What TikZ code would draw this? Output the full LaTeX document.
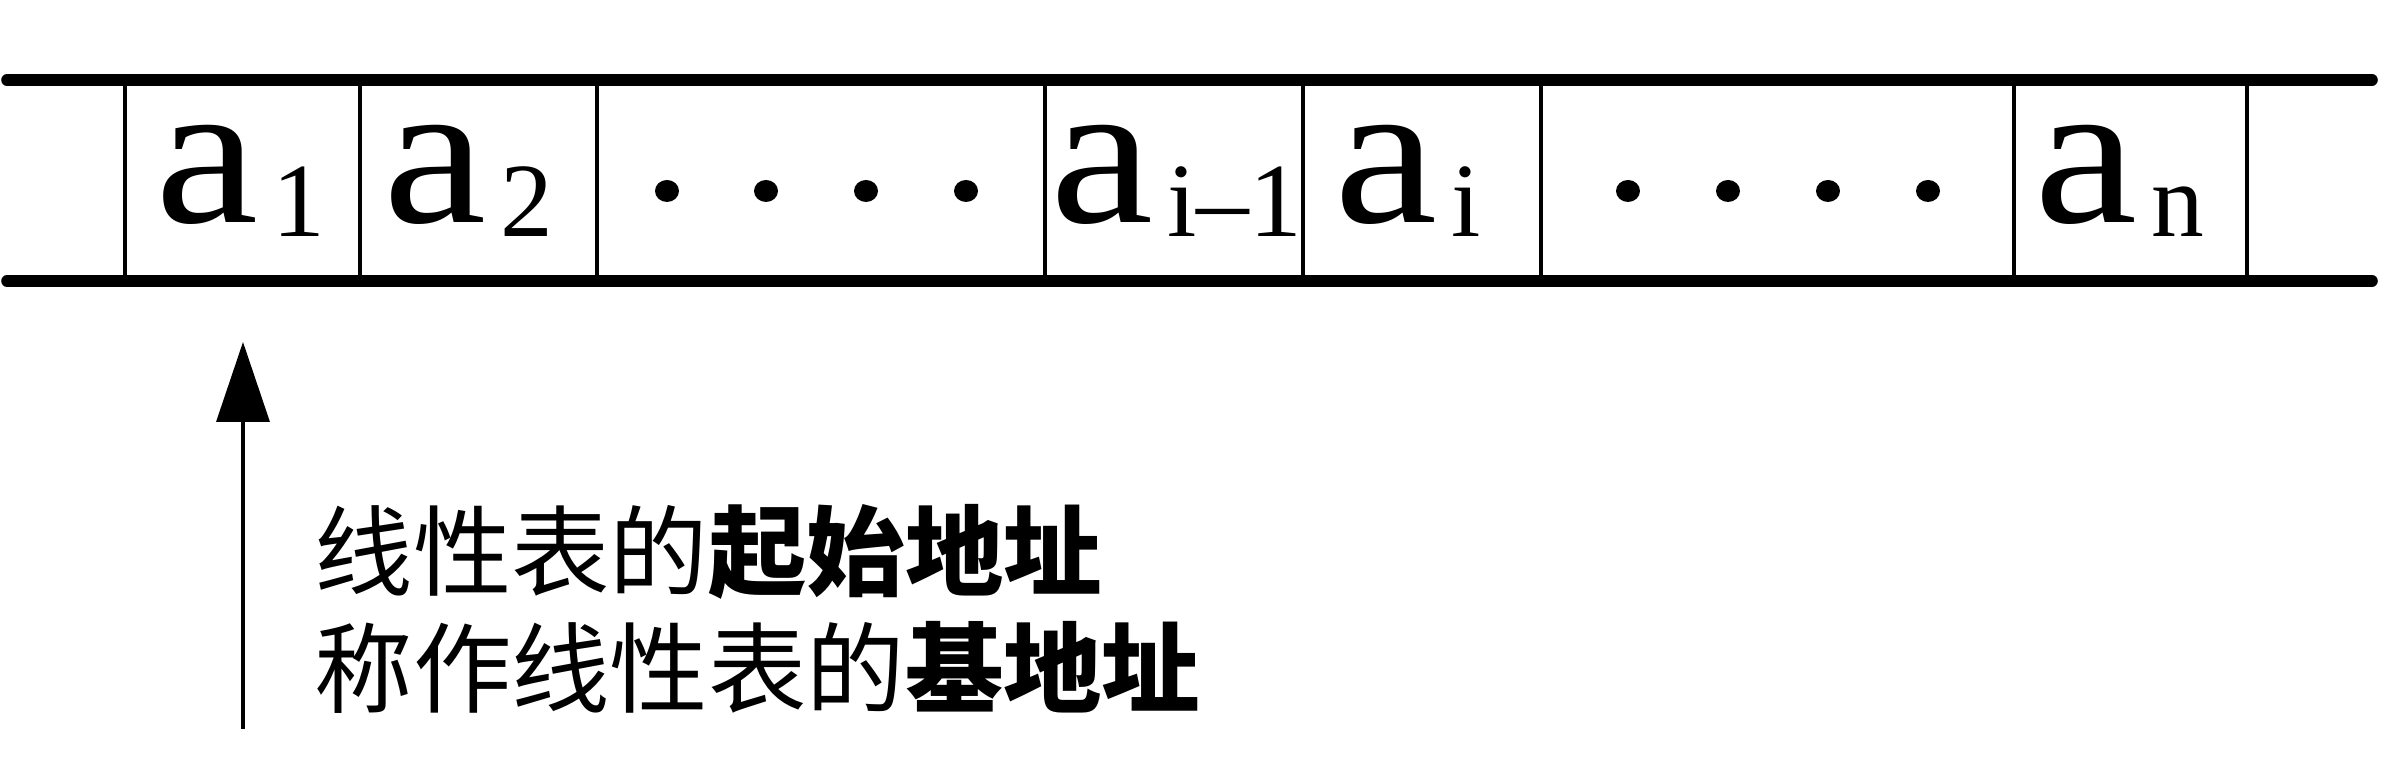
\documentclass[tikz,border=0pt]{standalone}
\usepackage{fontspec}
\setmainfont{Liberation Serif}
\newfontfamily\cjk{Noto Sans CJK SC}
\usetikzlibrary{arrows.meta}
\newcommand{\ael}[1]{\scalebox{1.12}[1]{\fontsize{59}{59}\selectfont a}\hspace{4pt}\raisebox{-0.14cm}{\fontsize{30}{30}\selectfont #1}}
\begin{document}
\begin{tikzpicture}[
  rail/.style={line width=3.3pt,line cap=round},
  sep/.style={line width=1.4pt},
  elem/.style={anchor=base,inner sep=0pt},
  note/.style={anchor=west,inner sep=0pt,align=left,font=\cjk\fontsize{28}{33.5}\selectfont}]

  \useasboundingbox (0,0) rectangle (23.81,7.75);

  \draw[rail] (0.07,6.95) -- (23.72,6.95);
  \draw[rail] (0.07,4.94) -- (23.72,4.94);
  \foreach \x in {1.25,3.60,5.97,10.45,13.03,15.41,20.14,22.47}
    \draw[sep] (\x,6.95) -- (\x,4.94);

  \node[elem] (a1) at (2.40,5.52) {\ael{1}};
  \node[elem] (a2) at (4.68,5.52) {\ael{2}};
  \node[elem] (aim1) at (11.76,5.52) {\ael{i--1}};
  \node[elem] (ai) at (14.08,5.52) {\ael{i}};
  \node[elem] (an) at (21.19,5.52) {\ael{n}};

  \foreach \x in {6.67,7.66,8.66,9.66,16.28,17.28,18.28,19.28}
    \fill (\x,5.84) ellipse (0.12 and 0.11);

  \coordinate (tail) at (2.43,0.46);
  \coordinate (head) at (2.43,4.33);
  \draw[line width=1pt,-{Triangle[length=8mm,width=5.3mm]}] (tail) -- (head);

  \node[note] (base) at (3.14,1.66)
    {线性表的\textbf{起始地址}\\称作线性表的\textbf{基地址}};
\end{tikzpicture}
\end{document}
